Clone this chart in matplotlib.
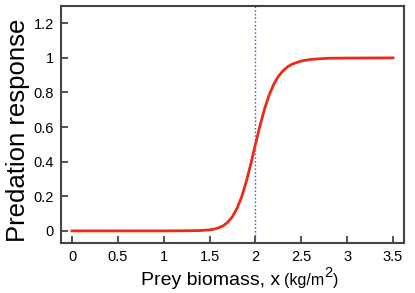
import matplotlib
matplotlib.use('Agg')
from matplotlib import pyplot as plt

plt.rcParams['font.family'] = ['Liberation Sans', 'DejaVu Sans']

# prey biomass (kg/m2) and predation response
biomass = [0.0, 0.5, 1.0, 1.2, 1.4, 1.5, 1.55, 1.6, 1.65, 1.7, 1.75, 1.8, 1.85, 1.9, 1.95,
           2.0, 2.05, 2.1, 2.15, 2.2, 2.25, 2.3, 2.35, 2.4, 2.5, 2.6, 2.7, 2.8, 3.0, 3.5]
response = [0.0, 0.0, 0.0, 0.0005, 0.002, 0.006, 0.010, 0.018, 0.030, 0.051, 0.083, 0.131,
            0.197, 0.284, 0.388, 0.5, 0.609, 0.706, 0.786, 0.848, 0.893, 0.925, 0.948,
            0.964, 0.982, 0.991, 0.995, 0.998, 0.999, 1.0]
threshold = 2.0

xticks = [0, 0.5, 1, 1.5, 2, 2.5, 3, 3.5]
xtick_labels = ['0', '0.5', '1', '1.5', '2', '2.5', '3', '3.5']
yticks = [0, 0.2, 0.4, 0.6, 0.8, 1.0, 1.2]
ytick_labels = ['0', '0.2', '0.4', '0.6', '0.8', '1', '1.2']

fig = plt.figure(figsize=(4.15, 2.93), dpi=100)
ax = fig.add_axes([61 / 415, 1 - 243 / 293, 343 / 415, 237 / 293])

ax.axvline(threshold, color='#3344ee', linestyle=':', linewidth=1.0)
ax.plot(biomass, response, color='#ee2a16', linewidth=2)

ax.set_xlim(-0.12, 3.62)
ax.set_ylim(-0.07, 1.30)
ax.set_xticks(xticks)
ax.set_xticklabels(xtick_labels)
ax.set_yticks(yticks)
ax.set_yticklabels(ytick_labels)
ax.tick_params(direction='in', length=5, width=1.2, labelsize=10.5, color='#333333', pad=5)

for s in ax.spines.values():
    s.set_linewidth(1.5)
    s.set_color('#444444')

ax.set_ylabel('Predation response', fontsize=18.5)
ax.yaxis.set_label_coords(-0.09, 0.475)

# x label: main text plus smaller units, chained one after another
base = 1 - 285 / 293
t1 = fig.text(280 / 415, base, 'Prey biomass, x', fontsize=14, ha='right', va='baseline')
t2 = ax.annotate('(kg/m', xy=(1, base), xycoords=(t1, 'figure fraction'),
                 xytext=(3, 0), textcoords='offset points',
                 fontsize=11.5, ha='left', va='baseline', annotation_clip=False)
t3 = ax.annotate('2', xy=(1, base), xycoords=(t2, 'figure fraction'),
                 xytext=(0.3, 5.5), textcoords='offset points',
                 fontsize=10.5, ha='left', va='baseline', annotation_clip=False)
ax.annotate(')', xy=(1, base), xycoords=(t3, 'figure fraction'),
            xytext=(0.3, 0), textcoords='offset points',
            fontsize=11.5, ha='left', va='baseline', annotation_clip=False)

plt.savefig('out.png', dpi=100)
